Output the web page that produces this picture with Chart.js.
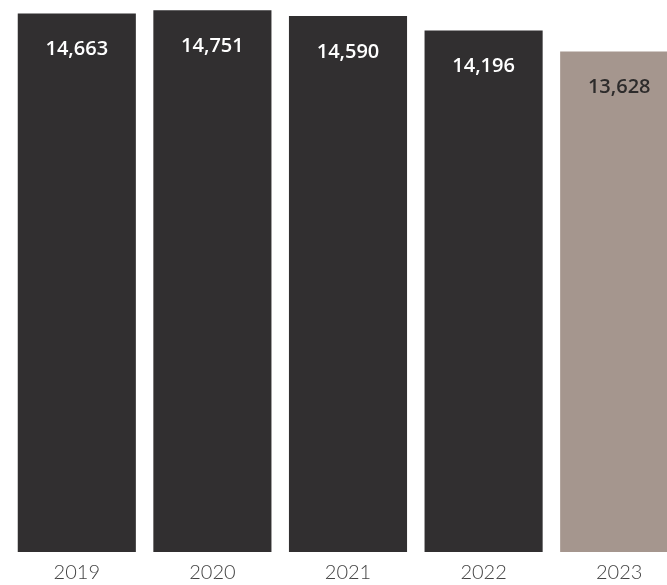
<!DOCTYPE html>
<html>
<head>
<meta charset="utf-8">
<script src="https://cdn.jsdelivr.net/npm/chart.js@4/dist/chart.umd.min.js"></script>
<style>
  html, body { margin: 0; padding: 0; background: #ffffff; overflow: hidden; }
  #wrap { position: relative; width: 667px; height: 585px; overflow: hidden; }
  canvas { position: absolute; left: 0; top: 0; }
</style>
</head>
<body>
<div id="wrap"><canvas id="chart" width="687" height="585"></canvas></div>
<script>
// Yearly totals
const years = ['2019', '2020', '2021', '2022', '2023'];
const totals = [14663, 14751, 14590, 14196, 13628];
const barColors = ['#312f30', '#312f30', '#312f30', '#312f30', '#a5968e'];
const valueColors = ['#ffffff', '#ffffff', '#ffffff', '#ffffff', '#2d2b2b'];

const fmt = v => v.toLocaleString('en-US');

// Writes each bar's value inside the bar, a little below its top edge
const valueLabels = {
  id: 'valueLabels',
  afterDatasetsDraw(chart) {
    const ctx = chart.ctx;
    const meta = chart.getDatasetMeta(0);
    ctx.save();
    ctx.font = '600 20px "Open Sans", sans-serif';
    ctx.textAlign = 'center';
    ctx.textBaseline = 'middle';
    meta.data.forEach((bar, i) => {
      ctx.fillStyle = valueColors[i];
      ctx.fillText(fmt(totals[i]), bar.x, bar.y + 36);
    });
    ctx.restore();
  }
};

new Chart(document.getElementById('chart'), {
  type: 'bar',
  data: {
    labels: years,
    datasets: [{
      data: totals,
      backgroundColor: barColors,
      borderWidth: 0,
      barPercentage: 1,
      categoryPercentage: 0.871
    }]
  },
  options: {
    responsive: false,
    animation: false,
    layout: { padding: { left: 9, right: 0, top: 1, bottom: 0 } },
    plugins: { legend: { display: false }, tooltip: { enabled: false } },
    scales: {
      x: {
        grid: { display: false, drawTicks: false },
        border: { display: false },
        afterFit(scale) { scale.height = 33; },
        ticks: {
          color: '#444444',
          padding: 9,
          font: { family: 'Lato', weight: '300', size: 20 }
        }
      },
      y: { display: false, min: 0, max: 15000 }
    }
  },
  plugins: [valueLabels]
});
</script>
</body>
</html>
